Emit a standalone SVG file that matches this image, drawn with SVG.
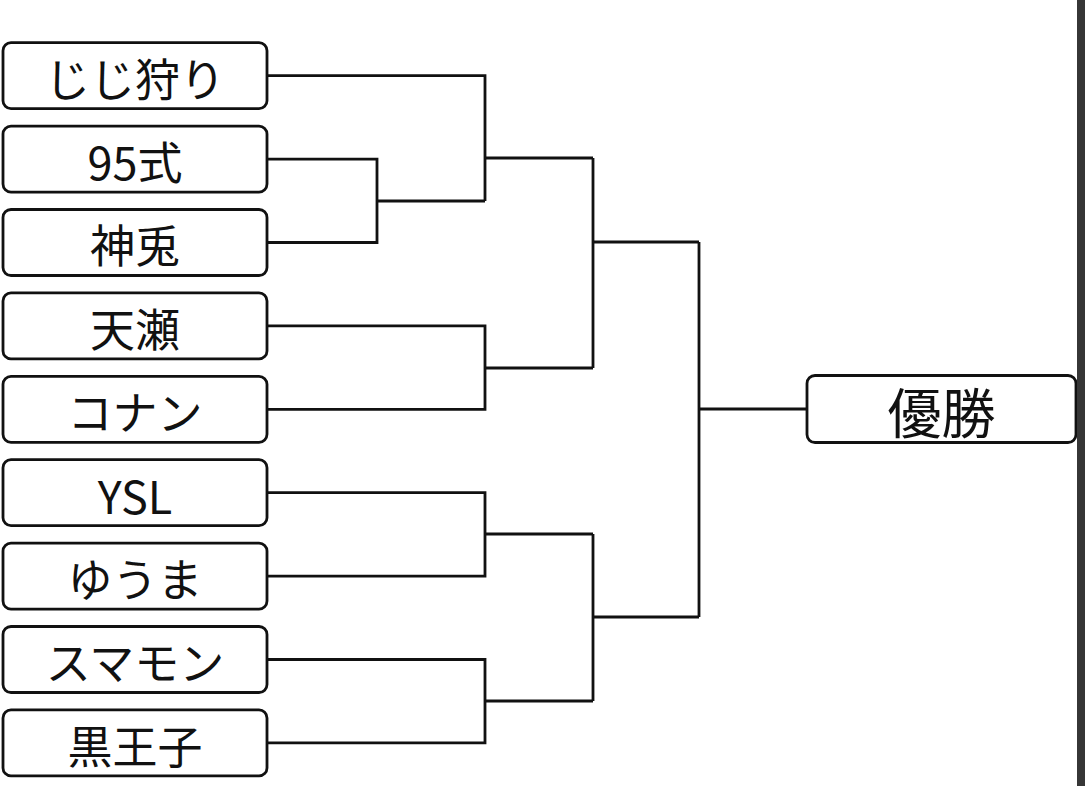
<svg xmlns="http://www.w3.org/2000/svg" width="1085" height="786" viewBox="0 0 1085 786">
<style>
.box{fill:#fff;stroke:#111;stroke-width:2.8}
.lbl{font-family:"Noto Sans CJK JP","Noto Sans",sans-serif;font-size:45px;font-weight:400;fill:#111;text-anchor:middle;dominant-baseline:central}
.ln{fill:none;stroke:#111;stroke-width:2.8}
</style>
<rect width="1085" height="786" fill="#fff"/>
<g id="connectors" class="ln">
<path d="M267 75.7H485V201"/>
<path d="M267 159.1H377V242.5H267M377 201H485"/>
<path d="M485 158H593"/>
<path d="M267 325.9H485V409.3H267M485 368H593"/>
<path d="M593 158V368M593 242H699"/>
<path d="M267 492.7H485V576.1H267M485 534H593"/>
<path d="M267 659.5H485V742.9H267M485 701H593"/>
<path d="M593 534V701M593 617H699"/>
<path d="M699 242V617M699 409H808"/>
</g>
<g id="n1"><rect class="box" x="3" y="42.7" width="264" height="66" rx="8"/><text class="lbl" x="135" y="77">じじ狩り</text></g>
<g id="n2"><rect class="box" x="3" y="126.1" width="264" height="66" rx="8"/><text class="lbl" x="135" y="160.4">95式</text></g>
<g id="n3"><rect class="box" x="3" y="209.5" width="264" height="66" rx="8"/><text class="lbl" x="135" y="243.8">神兎</text></g>
<g id="n4"><rect class="box" x="3" y="292.9" width="264" height="66" rx="8"/><text class="lbl" x="135" y="327.2">天瀬</text></g>
<g id="n5"><rect class="box" x="3" y="376.3" width="264" height="66" rx="8"/><text class="lbl" x="135" y="410.6">コナン</text></g>
<g id="n6"><rect class="box" x="3" y="459.7" width="264" height="66" rx="8"/><text class="lbl" x="135" y="494">YSL</text></g>
<g id="n7"><rect class="box" x="3" y="543.1" width="264" height="66" rx="8"/><text class="lbl" x="135" y="577.4">ゆうま</text></g>
<g id="n8"><rect class="box" x="3" y="626.5" width="264" height="66" rx="8"/><text class="lbl" x="135" y="660.8">スマモン</text></g>
<g id="n9"><rect class="box" x="3" y="709.9" width="264" height="66" rx="8"/><text class="lbl" x="135" y="744.2">黒王子</text></g>
<g id="winner"><rect class="box" x="807" y="375.5" width="269" height="67" rx="8"/><text class="lbl" x="941.5" y="410" style="font-size:54px">優勝</text></g>
<rect x="1077" y="0" width="8" height="786" fill="#363636"/>
</svg>
